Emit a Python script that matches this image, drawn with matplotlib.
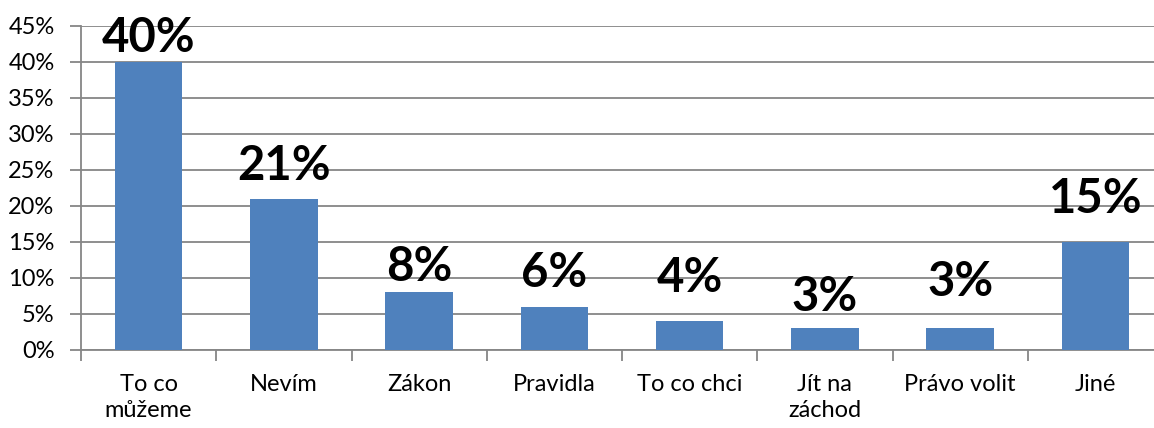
import matplotlib
matplotlib.use("Agg")
import matplotlib.pyplot as plt
from matplotlib.ticker import MultipleLocator, FuncFormatter, FixedLocator

categories = ["To co\nmůžeme", "Nevím", "Zákon", "Pravidla", "To co chci",
              "Jít na\nzáchod", "Právo volit", "Jiné"]
values = [40, 21, 8, 6, 4, 3, 3, 15]
value_labels = ["40%", "21%", "8%", "6%", "4%", "3%", "3%", "15%"]
label_gaps_px = [10, 19, 11, 20, 29, 17, 32, 29]

plt.rcParams['font.family'] = ['Lato', 'DejaVu Sans']

W, H = 1154, 428
fig = plt.figure(figsize=(W / 100, H / 100), dpi=100)
ax = fig.add_axes([81 / W, (H - 350) / H, (1163 - 81) / W, 324 / H])

x = list(range(len(categories)))
ax.bar(x, values, width=0.5, color="#4F81BD", zorder=3)

ax.set_xlim(-0.5, len(categories) - 0.5)
ax.set_ylim(0, 45)
ax.yaxis.set_major_locator(MultipleLocator(5))
ax.yaxis.set_major_formatter(FuncFormatter(lambda v, p: f"{int(round(v))}%"))
ax.grid(axis="y", color="#868686", linewidth=1.3, zorder=0)

ax.set_xticks(x)
ax.set_xticklabels(categories, fontsize=17, linespacing=1.3)
ax.xaxis.set_minor_locator(FixedLocator([i + 0.5 for i in range(-1, len(categories))]))
ax.tick_params(axis="x", which="major", length=0, pad=17)
ax.tick_params(axis="x", which="minor", length=8, width=1.3, color="#868686", direction="out")
ax.tick_params(axis="y", length=8, width=1.3, color="#868686", labelsize=17, pad=11)

for s in ["top", "right"]:
    ax.spines[s].set_visible(False)
for s in ["left", "bottom"]:
    ax.spines[s].set_color("#868686")
    ax.spines[s].set_linewidth(1.3)

for xi, v, lab, g in zip(x, values, value_labels, label_gaps_px):
    ax.annotate(lab, (xi, v), xytext=(0, g * 72 / 100), textcoords="offset points",
                ha="center", va="baseline", fontsize=34, fontweight="bold",
                color="black", zorder=4, annotation_clip=False)

fig.savefig("out.png", dpi=100)
